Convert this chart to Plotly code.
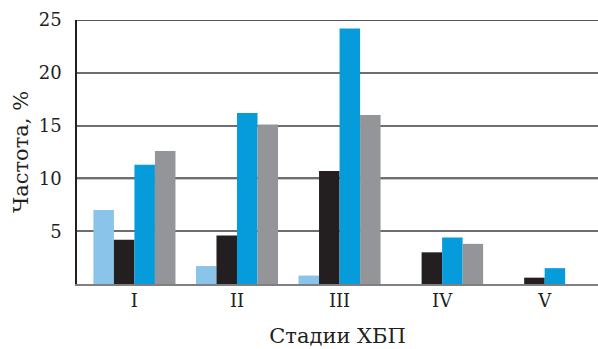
import plotly.graph_objects as go

categories = ["I", "II", "III", "IV", "V"]
series1 = [7.0, 1.7, 0.8, 0, 0]
series2 = [4.2, 4.6, 10.7, 3.0, 0.6]
series3 = [11.3, 16.2, 24.2, 4.4, 1.5]
series4 = [12.6, 15.1, 16.0, 3.8, 0]
colors = ["#8AC4EA", "#231F20", "#069CDB", "#939598"]
ytickvals = [5, 10, 15, 20, 25]
dark_grid = [10, 25]

font_family = "DejaVu Serif, Liberation Serif, serif"

fig = go.Figure()
for vals, col in zip([series1, series2, series3, series4], colors):
    fig.add_trace(go.Bar(x=categories, y=vals, marker=dict(color=col, line=dict(width=0)),
                         showlegend=False, hoverinfo="skip"))

for v in dark_grid:
    fig.add_shape(type="line", xref="paper", x0=0, x1=1, yref="y", y0=v, y1=v,
                  line=dict(color="#231F20", width=1.5), layer="below")

fig.update_layout(
    width=598, height=349,
    margin=dict(l=77, r=0, t=20, b=65, autoexpand=False),
    paper_bgcolor="white", plot_bgcolor="white",
    barmode="group", bargap=0.2, bargroupgap=0,
    font=dict(family=font_family, color="#231F20", size=16),
    xaxis=dict(
        range=[-0.56, 4.52], automargin=False,
        showline=True, linecolor="#808080", linewidth=1.5,
        ticks="", tickfont=dict(size=18),
        title=dict(text="Стадии ХБП", font=dict(size=21), standoff=18),
    ),
    yaxis=dict(
        range=[0, 25], tickvals=ytickvals, automargin=False,
        showgrid=True, gridcolor="#6D6E71", gridwidth=1.5,
        showline=True, linecolor="#231F20", linewidth=1.5,
        ticks="", ticklabelstandoff=10, tickfont=dict(size=18),
        zeroline=False,
        title=dict(text="Частота, %", font=dict(size=21), standoff=4),
    ),
)

fig.write_html(
    "out.html",
    config={"displayModeBar": False},
    post_script="document.body.style.margin='0';document.body.style.padding='0';",
)
